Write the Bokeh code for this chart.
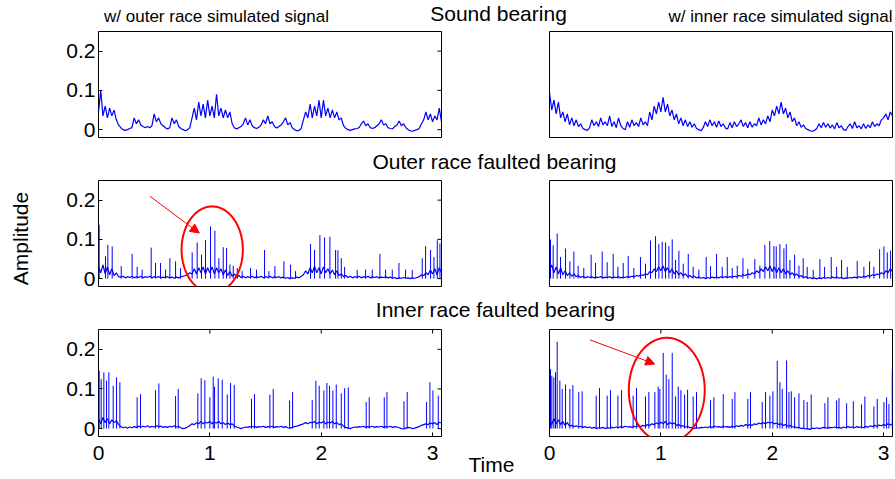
import numpy as np
from bokeh.plotting import figure
from bokeh.layouts import column, row
from bokeh.models import (Range1d, FixedTicker, LinearAxis, PolyAnnotation,
                          Arrow, NormalHead, ColumnDataSource)
from bokeh.embed import file_html
from bokeh.resources import INLINE
from bokeh.core.properties import value

FONT = "Liberation Sans"
BLUE = "#0000ff"

# ---------------- data ----------------
DT = 0.02            # sampling step of the envelope series (s)
T_MAX = 3.08
Y_MIN, Y_MAX = -0.02, 0.25
x_ticks = [0, 1, 2, 3]
y_ticks = [0, 0.1, 0.2]
y_tick_labels = {0: "0", 0.1: "0.1", 0.2: "0.2"}

row_titles = ["Sound bearing", "Outer race faulted bearing", "Inner race faulted bearing"]
col_titles = ["w/ outer race simulated signal", "w/ inner race simulated signal"]
x_label = "Time"
y_label = "Amplitude"

# amplitudes in thousandths, one value every DT seconds (rows of 0.2 s)
sound_w_outer = [
    45, 100, 35, 60, 30, 55, 35, 50, 25, 12,
    5, 0, -2, 0, 3, 5, 30, 15, 25, 12,
    8, 5, 8, 5, 10, 40, 20, 30, 15, 10,
    5, 2, 5, 30, 15, 25, 8, 3, 0, -3,
    0, 5, 30, 55, 25, 70, 35, 65, 30, 75,
    35, 60, 30, 90, 35, 55, 30, 50, 30, 45,
    15, 5, 2, 5, 8, 15, 30, 12, 25, 10,
    5, 3, 6, 12, 25, 15, 35, 15, 20, 8,
    4, 8, 12, 20, 30, 12, 18, 5, 0, -3,
    -2, 3, 25, 45, 30, 65, 30, 60, 35, 75,
    30, 75, 35, 55, 30, 50, 30, 45, 25, 30,
    10, 3, 0, -2, 0, 2, 3, 5, 15, 22,
    10, 15, 5, 3, 5, 10, 15, 25, 12, 15,
    5, 3, 2, 8, 12, 22, 10, 15, 5, 0,
    -3, -4, -2, 0, 3, 15, 25, 45, 25, 40,
    20, 35, 25, 55, 20]

sound_w_inner = [
    95, 50, 75, 40, 70, 30, 45, 20, 40, 12,
    30, 10, 25, 8, 15, 3, 0, -2, 5, 25,
    10, 20, 8, 30, 12, 20, 10, 35, 8, 20,
    5, 30, 10, 3, 0, 20, 6, 25, 10, 18,
    8, 30, 12, 20, 10, 45, 25, 60, 40, 70,
    45, 82, 45, 65, 35, 50, 25, 40, 15, 30,
    10, 25, 8, 20, 6, 15, 3, 0, -3, 5,
    20, 8, 25, 10, 20, 6, 22, 8, 15, 4,
    2, 18, 5, 20, 8, 15, 25, 8, 18, 5,
    20, 6, 15, 10, 30, 12, 25, 15, 35, 20,
    50, 35, 60, 40, 70, 40, 55, 30, 45, 20,
    30, 10, 20, 6, 12, 3, 0, -3, -4, -2,
    3, 15, 5, 18, 6, 15, 4, 12, 2, 18,
    5, 10, 0, -2, 8, 15, 3, 20, 5, 10,
    2, 15, 3, 12, 5, 20, 8, 15, 10, 25,
    30, 40, 25, 45, 35]

outer_w_outer_base = [
    30, 15, 35, 12, 30, 10, 25, 8, 15, 5,
    4, 6, 2, 5, 3, 6, 2, 5, 3, 6,
    2, 5, 3, 6, 2, 5, 3, 5, 2, 4,
    3, 5, 2, 4, 1, 4, 2, 5, 6, 8,
    10, 15, 12, 25, 12, 28, 15, 30, 12, 28,
    15, 30, 12, 28, 15, 25, 10, 22, 8, 18,
    6, 12, 4, 8, 3, 6, 2, 5, 3, 6,
    2, 5, 3, 6, 2, 5, 3, 6, 2, 5,
    3, 5, 2, 4, 1, 3, 0, 2, 1, 4,
    2, 6, 10, 20, 12, 28, 15, 32, 15, 28,
    12, 30, 15, 25, 12, 22, 10, 20, 8, 12,
    5, 8, 3, 6, 2, 5, 3, 6, 2, 5,
    3, 6, 2, 5, 3, 5, 2, 4, 3, 5,
    2, 4, 1, 3, 0, 2, 1, 3, 1, 2,
    0, 2, 1, 3, 5, 10, 8, 15, 10, 22,
    12, 25, 10, 28, 15]
outer_w_outer_spike_t = [
    0.006, 0.063, 0.084, 0.123, 0.204, 0.302, 0.347, 0.392, 0.473, 0.512,
    0.557, 0.602, 0.641, 0.692, 0.737, 0.841, 0.886, 0.925, 0.961, 1.006,
    1.045, 1.081, 1.120, 1.150, 1.180, 1.210, 1.246, 1.290, 1.365, 1.419,
    1.491, 1.530, 1.584, 1.665, 1.725, 1.769, 1.904, 1.940, 1.988, 2.030,
    2.078, 2.129, 2.150, 2.180, 2.210, 2.323, 2.398, 2.458, 2.527, 2.578,
    2.638, 2.698, 2.757, 2.817, 2.907, 2.937, 2.982, 3.012, 3.042, 3.066]
outer_w_outer_spike_a = [
    137, 57, 86, 82, 32, 63, 30, 23, 79, 40,
    40, 23, 52, 44, 27, 67, 92, 61, 98, 133,
    122, 52, 80, 78, 36, 33, 27, 19, 27, 23,
    73, 19, 32, 44, 36, 19, 88, 73, 111, 105,
    107, 73, 72, 52, 30, 22, 23, 23, 63, 23,
    23, 40, 23, 22, 52, 83, 73, 55, 98, 90]

outer_w_inner_base = [
    20, 35, 15, 30, 12, 28, 10, 20, 8, 15,
    6, 12, 5, 8, 3, 6, 2, 5, 3, 5,
    2, 4, 3, 5, 2, 4, 3, 5, 2, 4,
    3, 5, 2, 4, 3, 5, 4, 6, 5, 8,
    6, 10, 8, 12, 10, 18, 15, 25, 18, 30,
    20, 32, 18, 28, 15, 25, 12, 20, 10, 15,
    8, 12, 5, 8, 3, 6, 2, 4, 1, 3,
    0, 3, 1, 4, 2, 4, 2, 5, 3, 5,
    3, 5, 4, 6, 5, 8, 6, 10, 8, 12,
    10, 15, 12, 20, 15, 25, 18, 30, 20, 32,
    18, 30, 15, 28, 15, 25, 12, 20, 10, 15,
    8, 12, 5, 8, 3, 5, 1, 3, 0, 2,
    -1, 2, 0, 3, 1, 3, 1, 4, 2, 4,
    1, 3, 0, 2, 1, 3, 2, 4, 2, 5,
    3, 6, 4, 8, 6, 10, 8, 12, 10, 15,
    12, 20, 15, 25, 18]
outer_w_inner_spike_t = [
    0.009, 0.033, 0.069, 0.099, 0.144, 0.183, 0.219, 0.257, 0.308, 0.374,
    0.413, 0.473, 0.518, 0.572, 0.614, 0.662, 0.707, 0.757, 0.817, 0.862,
    0.907, 0.952, 0.982, 1.012, 1.042, 1.072, 1.102, 1.132, 1.162, 1.201,
    1.246, 1.290, 1.341, 1.407, 1.446, 1.500, 1.551, 1.596, 1.641, 1.686,
    1.737, 1.781, 1.844, 1.889, 1.934, 1.978, 2.015, 2.036, 2.069, 2.105,
    2.126, 2.159, 2.201, 2.240, 2.278, 2.314, 2.368, 2.428, 2.470, 2.530,
    2.578, 2.623, 2.674, 2.763, 2.823, 2.874, 2.913, 2.964, 3.003, 3.033,
    3.063]
outer_w_inner_spike_a = [
    100, 85, 115, 55, 77, 44, 69, 33, 27, 61,
    40, 69, 42, 63, 30, 40, 58, 27, 55, 38,
    97, 108, 88, 94, 92, 83, 100, 48, 71, 38,
    63, 30, 23, 55, 32, 63, 30, 55, 27, 33,
    52, 25, 50, 33, 86, 96, 83, 82, 88, 77,
    88, 48, 61, 33, 52, 30, 22, 50, 30, 55,
    30, 48, 30, 45, 30, 44, 30, 75, 82, 67,
    71]

inner_w_outer_base = [
    25, 12, 28, 15, 25, 12, 22, 15, 20, 10,
    5, 2, 4, 1, 4, 2, 5, 3, 6, 4,
    6, 4, 7, 3, 6, 4, 7, 5, 6, 3,
    5, 3, 6, 4, 7, 4, 5, 2, 0, 1,
    4, 8, 12, 10, 15, 12, 18, 12, 16, 14,
    18, 12, 16, 14, 18, 12, 15, 10, 14, 10,
    12, 6, 4, 2, 0, 2, 4, 3, 5, 4,
    6, 3, 5, 4, 6, 3, 5, 4, 6, 3,
    5, 4, 6, 3, 5, 2, 1, 3, 5, 6,
    8, 10, 12, 15, 12, 16, 14, 18, 12, 16,
    14, 18, 12, 16, 14, 18, 12, 15, 10, 12,
    6, 3, 1, 0, 2, 4, 3, 5, 4, 6,
    3, 5, 4, 6, 3, 5, 4, 6, 3, 5,
    4, 6, 3, 5, 4, 2, 0, -1, 1, 3,
    2, 0, 1, 3, 5, 8, 10, 12, 10, 14,
    12, 15, 10, 16, 14]
inner_w_outer_spike_t = [
    0.006, 0.024, 0.048, 0.072, 0.093, 0.132, 0.162, 0.192, 0.347, 0.377,
    0.512, 0.542, 0.692, 0.716, 0.892, 0.922, 0.955, 1.000, 1.030, 1.042,
    1.075, 1.111, 1.156, 1.186, 1.219, 1.374, 1.401, 1.539, 1.569, 1.716,
    1.743, 1.919, 1.952, 1.982, 2.024, 2.051, 2.075, 2.105, 2.135, 2.180,
    2.210, 2.243, 2.404, 2.431, 2.566, 2.590, 2.743, 2.772, 2.946, 2.976,
    3.003, 3.051]
inner_w_outer_spike_a = [
    146, 125, 142, 121, 142, 108, 129, 117, 79, 87,
    97, 114, 82, 100, 89, 127, 122, 79, 131, 106,
    127, 123, 86, 115, 110, 75, 87, 86, 100, 71,
    92, 72, 121, 108, 96, 115, 108, 96, 111, 89,
    102, 104, 67, 79, 79, 92, 69, 92, 67, 117,
    96, 83]

inner_w_inner_base = [
    20, 10, 25, 12, 22, 10, 18, 8, 15, 6,
    8, 5, 7, 4, 6, 3, 5, 2, 4, 1,
    3, 0, 2, 1, 3, 0, 2, 1, 3, 2,
    4, 2, 5, 3, 6, 4, 5, 3, 6, 4,
    7, 5, 8, 6, 10, 8, 12, 10, 14, 12,
    16, 12, 18, 10, 15, 12, 14, 8, 10, 6,
    7, 4, 5, 2, 3, 0, 2, 1, 3, 2,
    4, 2, 5, 3, 6, 4, 5, 3, 6, 4,
    5, 3, 6, 4, 7, 5, 8, 6, 10, 8,
    10, 8, 12, 10, 14, 12, 15, 12, 16, 14,
    16, 12, 14, 10, 12, 8, 10, 6, 8, 4,
    5, 2, 3, 0, 1, -1, 0, -2, 1, 0,
    2, 0, 1, 3, 2, 1, 3, 2, 4, 2,
    3, 1, 4, 2, 5, 3, 4, 2, 5, 3,
    4, 2, 6, 3, 7, 5, 8, 6, 9, 7,
    10, 8, 12, 9, 12]
inner_w_inner_spike_t = [
    0.009, 0.021, 0.039, 0.054, 0.069, 0.093, 0.114, 0.144, 0.183, 0.210,
    0.263, 0.293, 0.419, 0.449, 0.518, 0.548, 0.614, 0.647, 0.751, 0.781,
    0.862, 0.892, 0.946, 0.976, 0.991, 1.021, 1.048, 1.072, 1.102, 1.132,
    1.156, 1.180, 1.213, 1.240, 1.290, 1.320, 1.446, 1.476, 1.560, 1.641,
    1.665, 1.781, 1.805, 1.910, 1.940, 1.979, 2.006, 2.045, 2.069, 2.090,
    2.129, 2.150, 2.171, 2.201, 2.240, 2.284, 2.314, 2.350, 2.473, 2.500,
    2.578, 2.599, 2.668, 2.728, 2.802, 2.832, 2.913, 2.943, 3.003, 3.027,
    3.048, 3.078]
inner_w_inner_spike_a = [
    150, 133, 129, 142, 219, 121, 100, 111, 100, 110,
    92, 94, 83, 102, 83, 97, 83, 97, 83, 102,
    81, 92, 92, 106, 100, 191, 136, 125, 191, 81,
    106, 97, 86, 98, 81, 92, 72, 79, 87, 75,
    92, 75, 92, 67, 92, 83, 94, 171, 117, 100,
    172, 92, 94, 79, 89, 72, 67, 86, 64, 79,
    71, 77, 64, 69, 61, 81, 56, 75, 67, 79,
    62, 150]

# annotation geometry (data units of the panel they sit in)
ellipse_outer = dict(cx=1.021, cy=0.074, rx=0.275, ry=0.110)
arrow_outer = dict(x_start=0.461, y_start=0.210, x_end=0.905, y_end=0.116)
ellipse_inner = dict(cx=1.053, cy=0.097, rx=0.341, ry=0.132)
arrow_inner = dict(x_start=0.362, y_start=0.224, x_end=0.945, y_end=0.163)

# ---------------- layout constants ----------------
FRAME_W = 343
AMP_W = 36                 # strip holding the rotated y label
TOTAL_H = 478
MAIN_W = 858
TICK_PX = 4


def fig_base(w, h, **kw):
    return figure(width=w, height=h, title=None, x_axis_type=None, y_axis_type=None,
                  output_backend="svg", toolbar_location=None,
                  background_fill_color="white", border_fill_color="white", **kw)


def add_axis(p, side, ticks, overrides, standoff):
    ax = LinearAxis(ticker=FixedTicker(ticks=ticks, minor_ticks=[]),
                    axis_line_color=None,
                    major_tick_in=TICK_PX, major_tick_out=0,
                    major_tick_line_color="black", major_tick_line_width=1,
                    minor_tick_line_color=None,
                    major_label_text_font=FONT,
                    major_label_text_font_size="21px",
                    major_label_text_color="black",
                    major_label_standoff=standoff,
                    major_label_overrides=overrides)
    p.add_layout(ax, side)


def make_panel(col, r, base, spike_t=None, spike_a=None, mb_left=None, mb_right=None):
    is_left = col == 0
    is_bottom = r == 2
    frame_h = 107 if is_bottom else 106
    mb_top = 2 if r == 0 else 6
    mb_bottom = 42 if is_bottom else 10
    p = fig_base(mb_left + FRAME_W + mb_right, mb_top + frame_h + mb_bottom,
                 x_range=Range1d(0, T_MAX), y_range=Range1d(Y_MIN, Y_MAX),
                 min_border_left=mb_left, min_border_right=mb_right,
                 min_border_top=mb_top, min_border_bottom=mb_bottom)
    p.outline_line_color = "black"
    p.outline_line_width = 1
    p.outline_line_alpha = 1

    if is_left:
        add_axis(p, "left", y_ticks, y_tick_labels, 3)
        # mirrored inward ticks on the right edge
        dx = TICK_PX * T_MAX / FRAME_W
        src = ColumnDataSource(dict(y=y_ticks, x0=[T_MAX] * len(y_ticks),
                                    x1=[T_MAX - dx] * len(y_ticks)))
        p.segment(x0="x0", y0="y", x1="x1", y1="y", source=src,
                  line_color="black", line_width=1)
    if is_bottom:
        add_axis(p, "below", x_ticks, {t: str(t) for t in x_ticks}, 9)
        # mirrored inward ticks on the top edge
        dy = TICK_PX * (Y_MAX - Y_MIN) / frame_h
        src = ColumnDataSource(dict(x=x_ticks, y0=[Y_MAX] * len(x_ticks),
                                    y1=[Y_MAX - dy] * len(x_ticks)))
        p.segment(x0="x", y0="y0", x1="x", y1="y1", source=src,
                  line_color="black", line_width=1)

    y = np.array(base) / 1000.0
    x = np.arange(len(y)) * DT
    p.line(x, y, line_color=BLUE, line_width=1.2)
    if spike_t is not None:
        src = ColumnDataSource(dict(t=spike_t, a=np.array(spike_a) / 1000.0,
                                    z=[0.0] * len(spike_t)))
        p.segment(x0="t", y0="z", x1="t", y1="a", source=src,
                  line_color=BLUE, line_width=1)
    return p


def add_ellipse(p, e, a):
    th = np.linspace(0, 2 * np.pi, 181)
    xs = e["cx"] + e["rx"] * np.cos(th)
    ys = e["cy"] + e["ry"] * np.sin(th)
    p.add_layout(PolyAnnotation(xs=list(xs), ys=list(ys), fill_color=None, fill_alpha=0,
                                line_color="red", line_alpha=1, line_width=2,
                                level="overlay"))
    p.add_layout(Arrow(end=NormalHead(size=9, fill_color="red", line_color="red",
                                      line_width=1),
                       line_color="red", line_width=1, level="overlay", **a))


def strip(w, h):
    s = fig_base(w, h, x_range=Range1d(0, w), y_range=Range1d(0, h), min_border=0,
                 outline_line_color=None)
    return s


def put_text(s, h, xs, centers, texts, size, angle=0.0):
    # centers: distance of the text's middle from the strip's top edge
    s.text(x=xs, y=[h - c for c in centers], text=texts, text_font=value(FONT),
           text_font_size=value(size), text_align="center", text_baseline="middle",
           text_color="black", angle=angle)


# y label strip
amp = strip(AMP_W, TOTAL_H)
put_text(amp, TOTAL_H, [20], [238], [y_label], "21px", angle=np.pi / 2)

# title strips (x measured from the left of the main column)
s1 = strip(MAIN_W, 29)
put_text(s1, 29, [180, 744], [16, 16], col_titles, "17px")
put_text(s1, 29, [462], [13], [row_titles[0]], "21px")
s2 = strip(MAIN_W, 27)
put_text(s2, 27, [458], [14], [row_titles[1]], "21px")
s3 = strip(MAIN_W, 27)
put_text(s3, 27, [459], [13], [row_titles[2]], "21px")

# panels
tl = make_panel(0, 0, sound_w_outer, mb_left=62, mb_right=20)
tr = make_panel(1, 0, sound_w_inner, mb_left=88, mb_right=2)
ml = make_panel(0, 1, outer_w_outer_base, outer_w_outer_spike_t, outer_w_outer_spike_a,
                mb_left=62, mb_right=20)
mr = make_panel(1, 1, outer_w_inner_base, outer_w_inner_spike_t, outer_w_inner_spike_a,
                mb_left=88, mb_right=2)
bl = make_panel(0, 2, inner_w_outer_base, inner_w_outer_spike_t, inner_w_outer_spike_a,
                mb_left=62, mb_right=20)
br = make_panel(1, 2, inner_w_inner_base, inner_w_inner_spike_t, inner_w_inner_spike_a,
                mb_left=28, mb_right=2)

add_ellipse(ml, ellipse_outer, arrow_outer)
add_ellipse(br, ellipse_inner, arrow_inner)

# narrow figure between the bottom panels: its bottom axis carries the x label
mid = fig_base(60, bl.height, x_range=Range1d(0, 1), y_range=Range1d(0, 1),
               min_border_left=0, min_border_right=0, min_border_top=6,
               min_border_bottom=42, outline_line_color=None)
mid.add_layout(LinearAxis(ticker=FixedTicker(ticks=[], minor_ticks=[]),
                          axis_line_color=None, major_tick_line_color=None,
                          minor_tick_line_color=None, major_label_text_font_size="21px",
                          axis_label=x_label, axis_label_text_font=FONT,
                          axis_label_text_font_size="21px",
                          axis_label_text_font_style="normal",
                          axis_label_text_color="black",
                          axis_label_standoff=16), "below")

main = column(s1, row(tl, tr), s2, row(ml, mr), s3, row(bl, mid, br))
layout = row(amp, main)

open("out.html", "w").write(file_html(layout, INLINE))
